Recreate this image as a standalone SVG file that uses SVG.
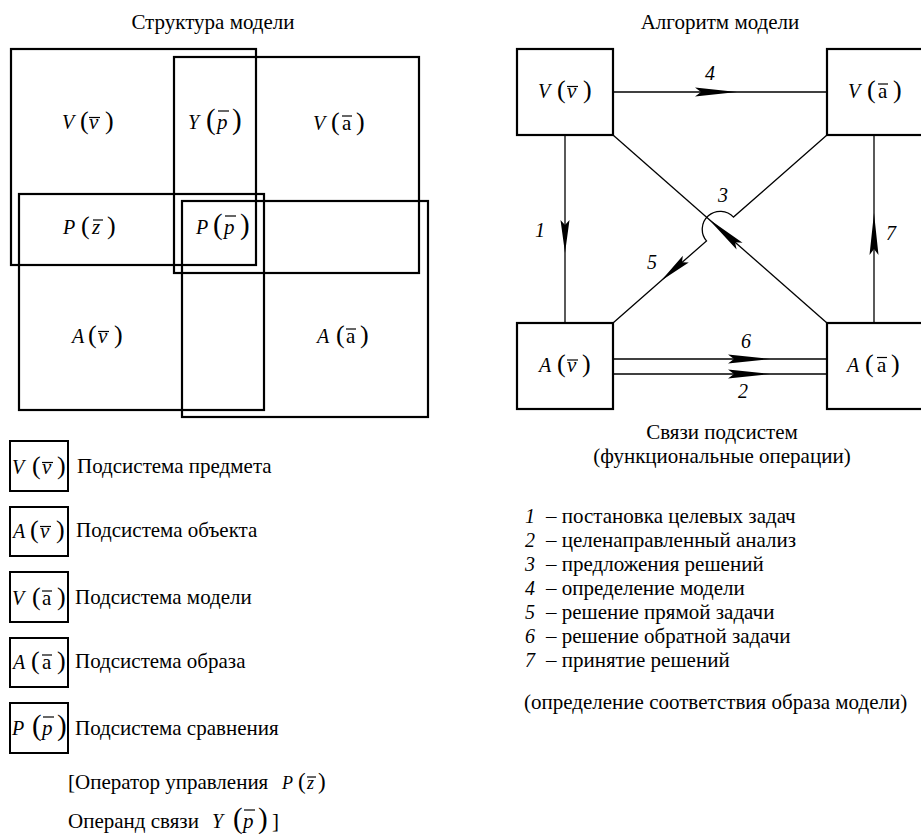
<svg xmlns="http://www.w3.org/2000/svg" xmlns:xlink="http://www.w3.org/1999/xlink" width="921" height="836" viewBox="0 0 921 836">
<style>
.t{font-family:'Liberation Serif','DejaVu Serif',serif;font-size:21px;fill:#000}
.m{font-family:'Liberation Serif','DejaVu Serif',serif;font-size:20px;font-style:italic;fill:#000}
.in{font-size:21px}
.up{font-style:normal}
.pr{font-size:26px;font-style:normal}
.pp{font-size:29px;font-style:normal}
.n{font-family:'Liberation Serif','DejaVu Serif',serif;font-size:20px;font-style:italic;fill:#000}
.box{fill:none;stroke:#000;stroke-width:2.2}
.lb{fill:none;stroke:#000;stroke-width:2}
.ln{fill:none;stroke:#000;stroke-width:1.3}
.ob{stroke:#000;stroke-width:1.2}
</style>
<defs>
<path id="ah" d="M0,0 L-42,-4.5 L-36,0 L-42,4.5 Z" fill="#000"/>
<path id="ahs" d="M0,0 L-33,-4.5 L-28,0 L-33,4.5 Z" fill="#000"/>
</defs>
<rect width="921" height="836" fill="#fff"/>

<!-- Left panel: structure -->
<g id="structure">
<text class="t" x="213" y="29" text-anchor="middle">Структура модели</text>
<g id="s-rects">
<rect class="box" x="11" y="49" width="245" height="216"/>
<rect class="box" x="174" y="57" width="245" height="216"/>
<rect class="box" x="19" y="194" width="245" height="216"/>
<rect class="box" x="182" y="201" width="246" height="216"/>
</g>
<g id="s-Vv">
<text class="m" y="129"><tspan x="62">V</tspan><tspan class="pr" x="80">(</tspan><tspan class="in" x="89">v</tspan><tspan class="pr" x="105">)</tspan></text>
<line class="ob" x1="89" y1="117.5" x2="100" y2="117.5"/>
</g>
<g id="s-Yp">
<text class="m" y="129"><tspan x="188">Y</tspan><tspan class="pp" x="206">(</tspan><tspan class="in" x="217">p</tspan><tspan class="pp" x="232">)</tspan></text>
<line class="ob" x1="218" y1="111" x2="229" y2="111"/>
</g>
<g id="s-Va">
<text class="m" y="130"><tspan x="313">V</tspan><tspan class="pr" x="331">(</tspan><tspan class="in up" x="342">a</tspan><tspan class="pr" x="356">)</tspan></text>
<line class="ob" x1="342" y1="116" x2="352" y2="116"/>
</g>
<g id="s-Pz">
<text class="m" y="234"><tspan x="63">P</tspan><tspan class="pr" x="81">(</tspan><tspan class="in" x="92">z</tspan><tspan class="pr" x="107">)</tspan></text>
<line class="ob" x1="93" y1="220" x2="103" y2="220"/>
</g>
<g id="s-Pp">
<text class="m" y="234"><tspan x="196">P</tspan><tspan class="pp" x="213">(</tspan><tspan class="in" x="224">p</tspan><tspan class="pp" x="240">)</tspan></text>
<line class="ob" x1="225" y1="216" x2="236" y2="216"/>
</g>
<g id="s-Av">
<text class="m" y="343"><tspan x="72">A</tspan><tspan class="pr" x="88">(</tspan><tspan class="in" x="98">v</tspan><tspan class="pr" x="114">)</tspan></text>
<line class="ob" x1="98" y1="331.5" x2="109" y2="331.5"/>
</g>
<g id="s-Aa">
<text class="m" y="343"><tspan x="317">A</tspan><tspan class="pr" x="336">(</tspan><tspan class="in up" x="346">a</tspan><tspan class="pr" x="360">)</tspan></text>
<line class="ob" x1="346" y1="329" x2="356" y2="329"/>
</g>
</g>

<!-- Right panel: algorithm -->
<text class="t" x="720" y="29" text-anchor="middle">Алгоритм модели</text>
<g id="connectors">
<path class="ln" d="M613 92 H827"/>
<path class="ln" d="M565 135 V323"/>
<path class="ln" d="M874 323 V135"/>
<path class="ln" d="M613 359 H827"/>
<path class="ln" d="M613 374 H827"/>
<path class="ln" d="M613 135 L827 323"/>
<path class="ln" d="M827 135 L733.5 217.1 A18 18 0 0 0 706.5 240.9 L613 323"/>
<use xlink:href="#ah" transform="translate(737 92)"/>
<use xlink:href="#ahs" transform="translate(565 253) rotate(90)"/>
<use xlink:href="#ah" transform="translate(874 213) rotate(-90)"/>
<use xlink:href="#ah" transform="translate(770 359)"/>
<use xlink:href="#ah" transform="translate(770 374)"/>
<use xlink:href="#ah" transform="translate(708 218.5) rotate(-138.7)"/>
<use xlink:href="#ahs" transform="translate(661 280.8) rotate(138.7)"/>
<text class="n" x="710" y="80" text-anchor="middle">4</text>
<text class="n" x="540" y="237" text-anchor="middle">1</text>
<text class="n" x="891" y="240" text-anchor="middle">7</text>
<text class="n" x="723" y="202" text-anchor="middle">3</text>
<text class="n" x="652" y="269" text-anchor="middle">5</text>
<text class="n" x="746" y="348" text-anchor="middle">6</text>
<text class="n" x="743" y="398" text-anchor="middle">2</text>
</g>
<g id="a-Vv">
<rect class="box" x="517" y="49" width="96" height="86"/>
<text class="m" y="98"><tspan x="538">V</tspan><tspan class="pr" x="557">(</tspan><tspan class="in" x="567">v</tspan><tspan class="pr" x="583">)</tspan></text>
<line class="ob" x1="567" y1="86.5" x2="578" y2="86.5"/>
</g>
<g id="a-Va">
<rect class="box" x="827" y="49" width="97" height="86"/>
<text class="m" y="98"><tspan x="848">V</tspan><tspan class="pr" x="867">(</tspan><tspan class="in up" x="878">a</tspan><tspan class="pr" x="893">)</tspan></text>
<line class="ob" x1="878" y1="84" x2="888" y2="84"/>
</g>
<g id="a-Av">
<rect class="box" x="517" y="323" width="96" height="86"/>
<text class="m" y="371.5"><tspan x="539">A</tspan><tspan class="pr" x="557">(</tspan><tspan class="in" x="567">v</tspan><tspan class="pr" x="582">)</tspan></text>
<line class="ob" x1="567" y1="360" x2="578" y2="360"/>
</g>
<g id="a-Aa">
<rect class="box" x="827" y="323" width="97" height="86"/>
<text class="m" y="371.5"><tspan x="847">A</tspan><tspan class="pr" x="865">(</tspan><tspan class="in up" x="877">a</tspan><tspan class="pr" x="891">)</tspan></text>
<line class="ob" x1="877" y1="357.5" x2="887" y2="357.5"/>
</g>

<g id="links-caption">
<text class="t" x="722" y="439" text-anchor="middle">Связи подсистем</text>
<text class="t" x="722" y="463" text-anchor="middle">(функциональные операции)</text>
</g>
<g id="links-list">
<text class="n" x="525" y="523">1</text><text class="t" x="546" y="523">– постановка целевых задач</text>
<text class="n" x="525" y="547">2</text><text class="t" x="546" y="547">– целенаправленный анализ</text>
<text class="n" x="525" y="571">3</text><text class="t" x="546" y="571">– предложения решений</text>
<text class="n" x="525" y="595">4</text><text class="t" x="546" y="595">– определение модели</text>
<text class="n" x="525" y="619">5</text><text class="t" x="546" y="619">– решение прямой задачи</text>
<text class="n" x="525" y="643">6</text><text class="t" x="546" y="643">– решение обратной задачи</text>
<text class="n" x="525" y="667">7</text><text class="t" x="546" y="667">– принятие решений</text>
<text class="t" x="524" y="709">(определение соответствия образа модели)</text>
</g>

<!-- Legend -->
<g id="legend-Vv">
<rect class="lb" x="10" y="441" width="58" height="50"/>
<text class="m" y="474"><tspan x="12">V</tspan><tspan class="pr" x="32">(</tspan><tspan class="in" x="42">v</tspan><tspan class="pr" x="57">)</tspan></text>
<line class="ob" x1="42" y1="462.5" x2="53" y2="462.5"/>
<text class="t" x="77" y="473">Подсистема предмета</text>
</g>
<g id="legend-Av">
<rect class="lb" x="10" y="507" width="58" height="49"/>
<text class="m" y="538"><tspan x="13">A</tspan><tspan class="pr" x="30">(</tspan><tspan class="in" x="40">v</tspan><tspan class="pr" x="56">)</tspan></text>
<line class="ob" x1="40" y1="526.5" x2="51" y2="526.5"/>
<text class="t" x="76" y="537">Подсистема объекта</text>
</g>
<g id="legend-Va">
<rect class="lb" x="10" y="572" width="58" height="50"/>
<text class="m" y="605"><tspan x="12">V</tspan><tspan class="pr" x="32">(</tspan><tspan class="in up" x="42">a</tspan><tspan class="pr" x="57">)</tspan></text>
<line class="ob" x1="42" y1="591" x2="52" y2="591"/>
<text class="t" x="75" y="604">Подсистема модели</text>
</g>
<g id="legend-Aa">
<rect class="lb" x="10" y="638" width="58" height="49"/>
<text class="m" y="669"><tspan x="13">A</tspan><tspan class="pr" x="31">(</tspan><tspan class="in up" x="42">a</tspan><tspan class="pr" x="57">)</tspan></text>
<line class="ob" x1="42" y1="655" x2="52" y2="655"/>
<text class="t" x="75" y="668">Подсистема образа</text>
</g>
<g id="legend-Pp">
<rect class="lb" x="10" y="703" width="58" height="50"/>
<text class="m" y="735"><tspan x="12">P</tspan><tspan class="pp" x="32">(</tspan><tspan class="in" x="42">p</tspan><tspan class="pp" x="57">)</tspan></text>
<line class="ob" x1="43" y1="717" x2="54" y2="717"/>
<text class="t" x="75" y="735">Подсистема сравнения</text>
</g>
<g id="legend-notes">
<text class="t" x="68" y="789">[Оператор управления</text>
<text class="m" y="789" style="font-size:18px"><tspan x="282">P</tspan><tspan class="pr" style="font-size:23px" x="298">(</tspan><tspan x="307">z</tspan><tspan class="pr" style="font-size:23px" x="318">)</tspan></text>
<line class="ob" x1="307" y1="777" x2="316" y2="777"/>
<text class="t" x="68" y="828">Операнд связи</text>
<text class="m" y="828"><tspan x="212">Y</tspan><tspan class="pp" x="233">(</tspan><tspan class="in" x="243">p</tspan><tspan class="pp" x="258">)</tspan></text>
<line class="ob" x1="244" y1="810" x2="255" y2="810"/>
<text class="t" x="272" y="828">]</text>
</g>
</svg>
